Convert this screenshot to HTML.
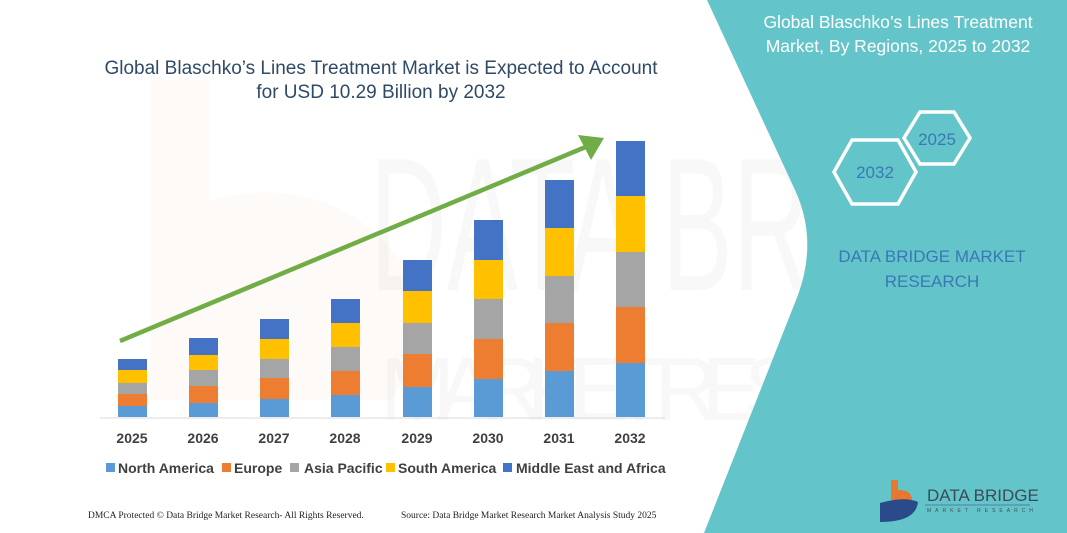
<!DOCTYPE html>
<html><head><meta charset="utf-8"><style>
html,body{margin:0;padding:0;background:#fff;}
svg{display:block;}
</style></head><body>
<svg width="1067" height="533" viewBox="0 0 1067 533" xmlns="http://www.w3.org/2000/svg" font-family="Liberation Sans, sans-serif">
<rect width="1067" height="533" fill="#fff"/>
<!-- faint watermark -->
<g opacity="0.035">
<text x="370" y="290" font-size="190" fill="#555" textLength="700" lengthAdjust="spacingAndGlyphs">DATA BRIDGE</text>
<text x="380" y="420" font-size="90" fill="#555" textLength="650" lengthAdjust="spacing">MARKET RESEARCH</text>
</g>
<path d="M150,80 L210,80 L210,200 Q330,170 400,260 Q440,330 390,400 L150,400 Z" fill="#f0a060" opacity="0.05"/>
<!-- teal panel -->
<path d="M707,0 L795,190 Q818,240 798,295 L704,533 L1067,533 L1067,0 Z" fill="#63c5c9"/>
<!-- titles -->
<text x="381" y="74" font-size="19" fill="#2f4a66" text-anchor="middle">Global Blaschko’s Lines Treatment Market is Expected to Account</text>
<text x="381" y="98" font-size="19" fill="#2f4a66" text-anchor="middle">for USD 10.29 Billion by 2032</text>
<text x="898" y="28" font-size="17.5" fill="#fff" text-anchor="middle">Global Blaschko’s Lines Treatment</text>
<text x="898" y="52" font-size="17.5" fill="#fff" text-anchor="middle">Market, By Regions, 2025 to 2032</text>
<!-- hexagons -->
<polygon points="920,112 954,112 970,138 954,164 920,164 904,138" fill="none" stroke="#fff" stroke-width="3.5"/>
<text x="937" y="145" font-size="17" fill="#3a78b5" text-anchor="middle">2025</text>
<polygon points="852,140 898,140 916,172 898,204 852,204 834,172" fill="none" stroke="#fff" stroke-width="3.5"/>
<text x="875" y="178" font-size="17" fill="#3a78b5" text-anchor="middle">2032</text>
<text x="932" y="262" font-size="17" fill="#3a78b5" text-anchor="middle">DATA BRIDGE MARKET</text>
<text x="932" y="287" font-size="17" fill="#3a78b5" text-anchor="middle">RESEARCH</text>
<!-- logo -->
<path d="M891,480 L898,480 L898,490 Q912,490 912,500 L895,500 L891,500 Z" fill="#e8782f"/>
<path d="M880,503 Q905,496 918,502 Q916,522 880,522 Z" fill="#2b4a8a"/>
<text x="927" y="501" font-size="17" fill="#3e4a5a">DATA BRIDGE</text>
<line x1="925" y1="505" x2="1030" y2="505" stroke="#5580a0" stroke-width="1"/>
<text x="927" y="512" font-size="5" fill="#3e4a5a" letter-spacing="4">MARKET RESEARCH</text>
<!-- axis line -->
<line x1="100" y1="418" x2="665" y2="418" stroke="#d9d9d9" stroke-width="1"/>
<!-- bars -->
<g>
<rect x="118" y="406" width="29" height="11" fill="#5b9bd5"/><rect x="118" y="394" width="29" height="12" fill="#ed7d31"/><rect x="118" y="383" width="29" height="11" fill="#a5a5a5"/><rect x="118" y="370" width="29" height="13" fill="#ffc000"/><rect x="118" y="359" width="29" height="11" fill="#4472c4"/>
<rect x="189" y="403" width="29" height="14" fill="#5b9bd5"/><rect x="189" y="386" width="29" height="17" fill="#ed7d31"/><rect x="189" y="370" width="29" height="16" fill="#a5a5a5"/><rect x="189" y="355" width="29" height="15" fill="#ffc000"/><rect x="189" y="338" width="29" height="17" fill="#4472c4"/>
<rect x="260" y="399" width="29" height="18" fill="#5b9bd5"/><rect x="260" y="378" width="29" height="21" fill="#ed7d31"/><rect x="260" y="359" width="29" height="19" fill="#a5a5a5"/><rect x="260" y="339" width="29" height="20" fill="#ffc000"/><rect x="260" y="319" width="29" height="20" fill="#4472c4"/>
<rect x="331" y="395" width="29" height="22" fill="#5b9bd5"/><rect x="331" y="371" width="29" height="24" fill="#ed7d31"/><rect x="331" y="347" width="29" height="24" fill="#a5a5a5"/><rect x="331" y="323" width="29" height="24" fill="#ffc000"/><rect x="331" y="299" width="29" height="24" fill="#4472c4"/>
<rect x="403" y="387" width="29" height="30" fill="#5b9bd5"/><rect x="403" y="354" width="29" height="33" fill="#ed7d31"/><rect x="403" y="323" width="29" height="31" fill="#a5a5a5"/><rect x="403" y="291" width="29" height="32" fill="#ffc000"/><rect x="403" y="260" width="29" height="31" fill="#4472c4"/>
<rect x="474" y="379" width="29" height="38" fill="#5b9bd5"/><rect x="474" y="339" width="29" height="40" fill="#ed7d31"/><rect x="474" y="299" width="29" height="40" fill="#a5a5a5"/><rect x="474" y="260" width="29" height="39" fill="#ffc000"/><rect x="474" y="220" width="29" height="40" fill="#4472c4"/>
<rect x="545" y="371" width="29" height="46" fill="#5b9bd5"/><rect x="545" y="323" width="29" height="48" fill="#ed7d31"/><rect x="545" y="276" width="29" height="47" fill="#a5a5a5"/><rect x="545" y="228" width="29" height="48" fill="#ffc000"/><rect x="545" y="180" width="29" height="48" fill="#4472c4"/>
<rect x="616" y="363" width="29" height="54" fill="#5b9bd5"/><rect x="616" y="307" width="29" height="56" fill="#ed7d31"/><rect x="616" y="252" width="29" height="55" fill="#a5a5a5"/><rect x="616" y="196" width="29" height="56" fill="#ffc000"/><rect x="616" y="141" width="29" height="55" fill="#4472c4"/>
</g>
<!-- arrow -->
<line x1="120" y1="341" x2="588" y2="146" stroke="#70ad47" stroke-width="4.5"/>
<polygon points="604,138 578,135 591,160" fill="#70ad47"/>
<!-- year labels -->
<g font-size="14" font-weight="bold" fill="#404040" text-anchor="middle">
<text x="132" y="443">2025</text><text x="203" y="443">2026</text><text x="274" y="443">2027</text><text x="345" y="443">2028</text><text x="417" y="443">2029</text><text x="488" y="443">2030</text><text x="559" y="443">2031</text><text x="630" y="443">2032</text>
</g>
<!-- legend -->
<g font-size="14" font-weight="bold" fill="#404040">
<rect x="106" y="463" width="9" height="9" fill="#5b9bd5"/><text x="118" y="473">North America</text>
<rect x="222" y="463" width="9" height="9" fill="#ed7d31"/><text x="234" y="473">Europe</text>
<rect x="290" y="463" width="9" height="9" fill="#a5a5a5"/><text x="304" y="473">Asia Pacific</text>
<rect x="386" y="463" width="9" height="9" fill="#ffc000"/><text x="398" y="473">South America</text>
<rect x="503" y="463" width="9" height="9" fill="#4472c4"/><text x="516" y="473">Middle East and Africa</text>
</g>
<!-- footer -->
<text x="88" y="518" font-size="9.5" font-family="Liberation Serif, serif" fill="#222">DMCA Protected © Data Bridge Market Research-  All Rights Reserved.</text>
<text x="401" y="518" font-size="9.5" font-family="Liberation Serif, serif" fill="#222">Source: Data Bridge Market Research  Market Analysis Study 2025</text>
</svg>
</body></html>
